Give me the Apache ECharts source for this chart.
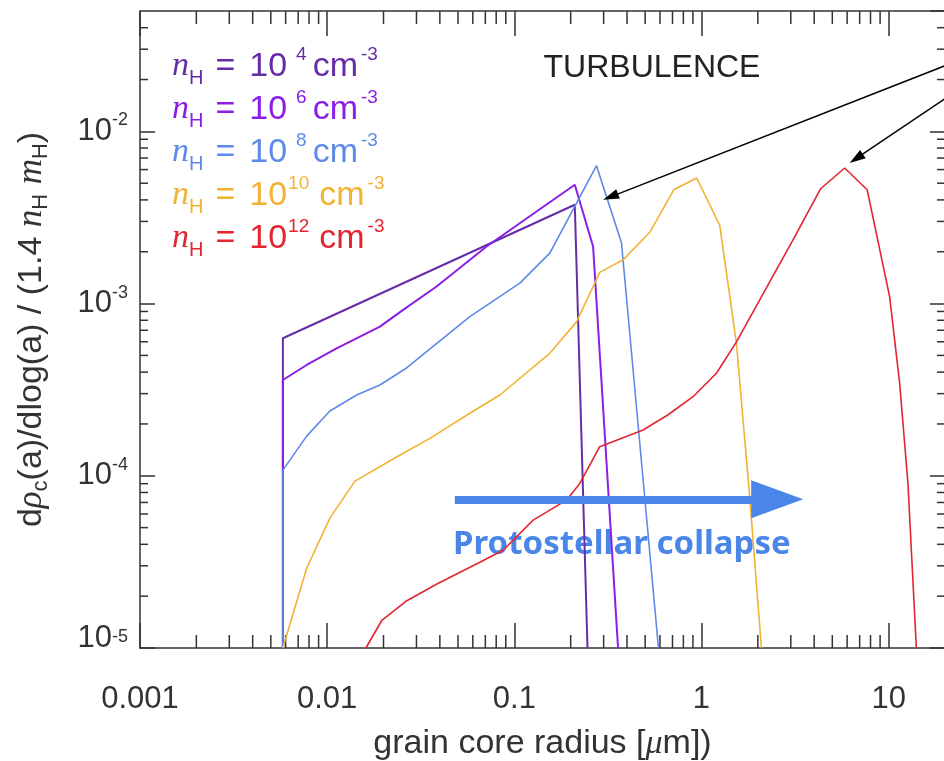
<!DOCTYPE html>
<html><head><meta charset="utf-8">
<script src="https://cdn.jsdelivr.net/npm/echarts@6/dist/echarts.min.js"></script>
<style>html,body{margin:0;padding:0;background:#fff}#c{width:944px;height:761px}</style>
</head><body><div id="c"></div>
<script>
// ---------- data ----------
const densityExp = [4, 6, 8, 10, 12];
const seriesNames = densityExp.map(e => 'n_H = 10^' + e + ' cm^-3');
const colors = ['#662ca8', '#8b1ee6', '#5d8ae8', '#f2b233', '#e22530'];

const radius_1e4 = [0.0058, 0.0058, 0.2104, 0.2460];
const rho_1e4    = [1e-5, 6.29e-4, 3.75e-3, 1e-5];

const radius_1e6 = [0.0058, 0.0058, 0.00777, 0.01123, 0.01913, 0.02547, 0.03841, 0.07106, 0.2104, 0.2635, 0.3583];
const rho_1e6    = [1e-5, 3.60e-4, 4.40e-4, 5.50e-4, 7.35e-4, 9.19e-4, 1.256e-3, 2.145e-3, 4.90e-3, 2.145e-3, 1e-5];

const radius_1e8 = [0.0058, 0.0058, 0.00777, 0.01034, 0.01437, 0.01913, 0.02656, 0.05785, 0.1070, 0.1547, 0.2149, 0.2748, 0.3737, 0.589];
const rho_1e8    = [1e-5, 1.079e-4, 1.70e-4, 2.378e-4, 2.945e-4, 3.367e-4, 4.227e-4, 8.40e-4, 1.314e-3, 1.963e-3, 3.835e-3, 6.32e-3, 2.254e-3, 1e-5];

const radius_1e10 = [0.0058, 0.00777, 0.01034, 0.01407, 0.02349, 0.03538, 0.05785, 0.08366, 0.1547, 0.2149, 0.2861, 0.3811, 0.5293, 0.7108, 0.9432, 1.2518, 1.537, 1.810, 2.090];
const rho_1e10    = [1e-5, 2.906e-5, 5.68e-5, 9.31e-5, 1.285e-4, 1.650e-4, 2.306e-4, 2.945e-4, 5.146e-4, 7.83e-4, 1.518e-3, 1.795e-3, 2.594e-3, 4.58e-3, 5.36e-3, 2.849e-3, 5.886e-4, 7.52e-5, 1e-5];

const radius_1e12 = [0.0161, 0.01961, 0.02634, 0.03903, 0.06385, 0.08712, 0.1260, 0.1900, 0.2238, 0.2861, 0.4874, 0.6604, 0.9012, 1.202, 1.537, 2.047, 3.083, 4.333, 5.821, 7.677, 10.12, 11.45, 12.68, 14.06];
const rho_1e12    = [1e-5, 1.449e-5, 1.868e-5, 2.368e-5, 3.107e-5, 3.698e-5, 5.527e-5, 7.22e-5, 9.03e-5, 1.475e-4, 1.844e-4, 2.254e-4, 2.879e-4, 3.938e-4, 5.99e-4, 1.051e-3, 2.346e-3, 4.644e-3, 6.127e-3, 4.58e-3, 1.098e-3, 3.444e-4, 9.03e-5, 1e-5];

const radii = [radius_1e4, radius_1e6, radius_1e8, radius_1e10, radius_1e12];
const rhos  = [rho_1e4, rho_1e6, rho_1e8, rho_1e10, rho_1e12];

const X_MIN = 0.001, X_MAX = 20;
const Y_MIN = 1e-5, Y_MAX = 0.05;
const xTickLabels = ['0.001', '0.01', '0.1', '1', '10'];
const xMinorTicks = [0.002,0.003,0.004,0.005,0.006,0.007,0.008,0.009,
                     0.02,0.03,0.04,0.05,0.06,0.07,0.08,0.09,
                     0.2,0.3,0.4,0.5,0.6,0.7,0.8,0.9,
                     2,3,4,5,6,7,8,9];
const yMinorTicks = [2e-5,3e-5,4e-5,5e-5,6e-5,7e-5,8e-5,9e-5,
                     2e-4,3e-4,4e-4,5e-4,6e-4,7e-4,8e-4,9e-4,
                     2e-3,3e-3,4e-3,5e-3,6e-3,7e-3,8e-3,9e-3,
                     0.02,0.03,0.04];

// annotation arrows (data coordinates)
const arrowA = [[19.9, 0.0240], [0.3268, 4.167e-3]];
const arrowB = [[19.9, 0.01543], [6.714, 6.958e-3]];
const collapseArrow = [[0.0481, 7.3e-5], [2.538, 7.3e-5]];

// ---------- styling ----------
const FONT = 'Liberation Sans';
const SERIF = 'Liberation Serif';
const AX = '#333';

function xLabel(v) {
  const e = Math.round(Math.log10(v));
  return xTickLabels[e + 3] !== undefined ? xTickLabels[e + 3] : '';
}
function yLabel(v) {
  const e = Math.round(Math.log10(v));
  return e === -5 ? '{bl|10}{s|' + e + '}' : '{b|10}{s|' + e + '}';
}
function legendFmt(name) {
  const e = name.match(/10\^(\d+)/)[1];
  const supKey = e.length === 1 ? 'supE1' : 'supE2';
  return '{n|n}{sub|H}{eq|=}{t|10}{' + supKey + '|' + e + '}{u|cm}{sup|-3}';
}

function minorX(params, api) {
  const p = api.coord([api.value(0), Y_MIN]);
  const cs = params.coordSys;
  const st = {stroke: AX, lineWidth: 1.5};
  return {type: 'group', children: [
    {type: 'line', shape: {x1: p[0], y1: cs.y + cs.height, x2: p[0], y2: cs.y + cs.height - 13}, style: st},
    {type: 'line', shape: {x1: p[0], y1: cs.y, x2: p[0], y2: cs.y + 13}, style: st}
  ]};
}
function minorY(params, api) {
  const p = api.coord([X_MIN, api.value(1)]);
  const cs = params.coordSys;
  const st = {stroke: AX, lineWidth: 1.5};
  return {type: 'group', children: [
    {type: 'line', shape: {x1: cs.x, y1: p[1], x2: cs.x + 8, y2: p[1]}, style: st},
    {type: 'line', shape: {x1: cs.x + cs.width, y1: p[1], x2: cs.x + cs.width - 8, y2: p[1]}, style: st}
  ]};
}

const lineSeries = seriesNames.map((name, i) => ({
  name: name,
  type: 'line',
  xAxisIndex: 0, yAxisIndex: 0,
  data: radii[i].map((x, k) => [x, rhos[i][k]]),
  showSymbol: false, symbol: 'none',
  lineStyle: {color: colors[i], width: i < 2 ? 2 : 1.6},
  itemStyle: {color: colors[i]},
  silent: true, z: 3
}));

const blackEnd = (c) => ({coord: c, symbol: 'triangle', symbolSize: [10, 16], lineStyle: {color: '#000', width: 1.5, type: 'solid'}, itemStyle: {color: '#000'}});
const blackStart = (c) => ({coord: c, symbol: 'none', lineStyle: {color: '#000', width: 1.5, type: 'solid'}, itemStyle: {color: '#000'}});
lineSeries[4].markLine = {
  silent: true, animation: false, label: {show: false}, emphasis: {disabled: true},
  data: [
    [blackStart(arrowA[0]), blackEnd(arrowA[1])],
    [blackStart(arrowB[0]), blackEnd(arrowB[1])],
    [{coord: collapseArrow[0], symbol: 'none', lineStyle: {color: '#4a86e8', width: 8, type: 'solid'}, itemStyle: {color: '#4a86e8'}},
     {coord: collapseArrow[1], symbol: 'triangle', symbolSize: [38, 52], lineStyle: {color: '#4a86e8', width: 8, type: 'solid'}, itemStyle: {color: '#4a86e8'}}]
  ]
};

const baseX = {
  type: 'log', logBase: 10, min: X_MIN, max: X_MAX,
  axisLine: {show: true, onZero: false, lineStyle: {color: AX, width: 1.5}},
  axisTick: {show: true, inside: true, length: 25, lineStyle: {color: AX, width: 1.5}},
  splitLine: {show: false}, minorTick: {show: false}
};
const baseY = {
  type: 'log', logBase: 10, min: Y_MIN, max: Y_MAX,
  axisLine: {show: true, onZero: false, lineStyle: {color: AX, width: 1.5}},
  axisTick: {show: true, inside: true, length: 15, lineStyle: {color: AX, width: 1.5}},
  splitLine: {show: false}, minorTick: {show: false}
};

const option = {
  animation: false,
  backgroundColor: '#fff',
  textStyle: {fontFamily: FONT},
  grid: {left: 140, top: 11, right: -1, bottom: 113, containLabel: false, outerBoundsMode: 'none'},
  legend: {
    orient: 'vertical', left: 167, top: 45, padding: 0, itemGap: 0,
    itemWidth: 0, itemHeight: 10, icon: 'none', selectedMode: false,
    data: seriesNames.map((n, i) => ({name: n, textStyle: {color: colors[i]}})),
    formatter: legendFmt,
    textStyle: {
      fontFamily: FONT, fontSize: 34,
      rich: {
        n: {fontFamily: SERIF, fontStyle: 'italic', fontSize: 34, lineHeight: 43},
        sub: {fontFamily: FONT, fontSize: 20, lineHeight: 20, verticalAlign: 'bottom'},
        eq: {fontFamily: FONT, fontSize: 34, lineHeight: 43, padding: [0, 14, 0, 12]},
        t: {fontFamily: FONT, fontSize: 34, lineHeight: 43},
        u: {fontFamily: FONT, fontSize: 34, lineHeight: 43},
        supE1: {fontFamily: FONT, fontSize: 19, lineHeight: 14, verticalAlign: 'top', padding: [0, 6, 0, 9]},
        supE2: {fontFamily: FONT, fontSize: 19, lineHeight: 14, verticalAlign: 'top', padding: [0, 10, 0, 1]},
        sup: {fontFamily: FONT, fontSize: 19, lineHeight: 14, verticalAlign: 'top', padding: [0, 0, 0, 3]}
      }
    }
  },
  xAxis: [
    Object.assign({}, baseX, {
      position: 'bottom',
      axisLabel: {show: true, margin: 36, fontSize: 31, fontFamily: FONT, color: AX, showMaxLabel: false, formatter: xLabel},
      name: '{t|grain core radius [}{i|\u03bc}{t|m])}',
      nameLocation: 'middle', nameGap: 81,
      nameTextStyle: {
        color: AX, fontSize: 34, fontFamily: FONT,
        rich: {t: {fontSize: 34, fontFamily: FONT, color: AX, lineHeight: 30},
               i: {fontSize: 34, fontFamily: SERIF, fontStyle: 'italic', color: AX, lineHeight: 30}}
      }
    }),
    Object.assign({}, baseX, {position: 'top', axisLabel: {show: false}})
  ],
  yAxis: [
    Object.assign({}, baseY, {
      position: 'left',
      axisLabel: {show: true, margin: 12, color: AX, showMaxLabel: false, formatter: yLabel,
        rich: {b: {fontSize: 31, fontFamily: FONT, color: AX, lineHeight: 40, verticalAlign: 'middle'},
               bl: {fontSize: 31, fontFamily: FONT, color: AX, lineHeight: 40, verticalAlign: 'middle', padding: [0, 0, 20, 0]},
               s: {fontSize: 18, fontFamily: FONT, color: AX, lineHeight: 18, verticalAlign: 'top'}}},
      name: '{t|d}{i|\u03c1}{s|c}{t|(a)/dlog(a) / (1.4 }{i|n}{s|H}{t| }{i|m}{s|H}{t|)}',
      nameLocation: 'middle', nameGap: 88, nameRotate: 90,
      nameTextStyle: {
        color: AX, fontSize: 34, fontFamily: FONT,
        rich: {t: {fontSize: 34, fontFamily: FONT, color: AX, lineHeight: 40},
               i: {fontSize: 35, fontFamily: SERIF, fontStyle: 'italic', color: AX, lineHeight: 40},
               s: {fontSize: 22, fontFamily: FONT, color: AX, lineHeight: 22, verticalAlign: 'bottom'}}
      }
    }),
    Object.assign({}, baseY, {position: 'right', axisLabel: {show: false}})
  ],
  graphic: [
    {type: 'text', x: 652, y: 68, silent: true,
     style: {text: 'TURBULENCE', fontSize: 32, fontFamily: FONT, fill: '#222', align: 'center', verticalAlign: 'middle'}},
    {type: 'text', x: 453, y: 545, silent: true,
     style: {text: 'Protostellar collapse', fontSize: 33, fontWeight: 'bold', fontFamily: 'Noto Sans', fill: '#4a86e8', align: 'left', verticalAlign: 'middle'}}
  ],
  series: lineSeries.concat([
    {type: 'custom', name: 'xminor', xAxisIndex: 0, yAxisIndex: 0, silent: true, renderItem: minorX,
     data: xMinorTicks.map(v => [v, Y_MIN]), encode: {x: 0, y: 1}, z: 2},
    {type: 'custom', name: 'yminor', xAxisIndex: 0, yAxisIndex: 0, silent: true, renderItem: minorY,
     data: yMinorTicks.map(v => [X_MIN, v]), encode: {x: 0, y: 1}, z: 2}
  ])
};

const chart = echarts.init(document.getElementById('c'), null, {renderer: 'canvas'});
chart.setOption(option);
</script>
</body></html>
